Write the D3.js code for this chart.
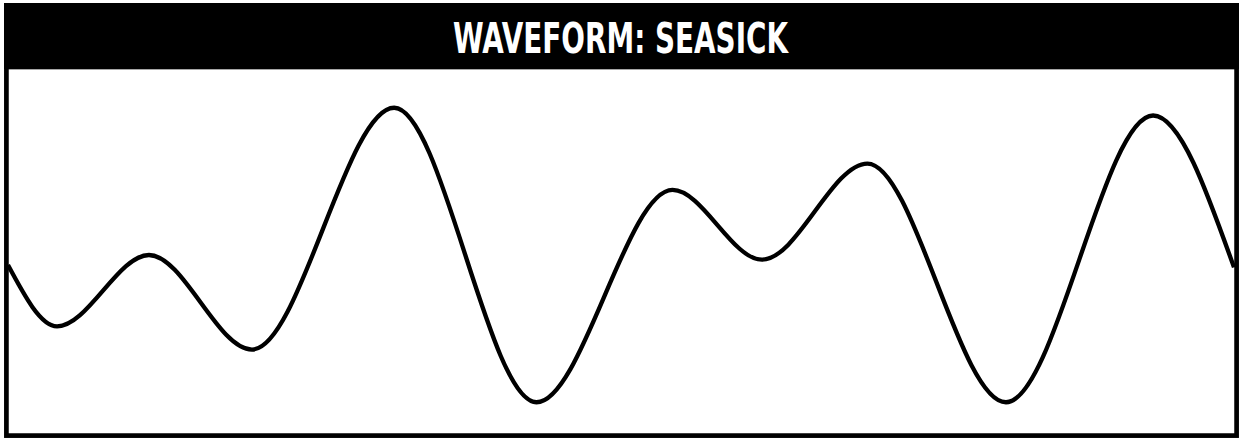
<!DOCTYPE html>
<html>
<head>
<meta charset="utf-8">
<script src="https://cdn.jsdelivr.net/npm/d3@7"></script>
<style>
  html, body { margin: 0; padding: 0; background: #fff; }
  svg { display: block; }
</style>
</head>
<body>
<svg id="chart" width="1239" height="438"></svg>
<script>
// Waveform samples: time (0–100) and amplitude (-1 … 1) at each turning point
const titleText = "WAVEFORM: SEASICK";
const times      = [0, 4.0, 11.5, 19.9, 31.5, 43.1, 54.2, 61.5, 70.1, 81.4, 93.4, 100];
const amplitudes = [-0.065, -0.46, 0.0, -0.61, 0.95, -0.95, 0.42, -0.03, 0.59, -0.95, 0.90, -0.08];

const W = 1239, H = 438;
const svg = d3.select("#chart");

const frame = { left: 6.4, right: 1236.6, top: 67, bottom: 435.6 };

const x = d3.scaleLinear().domain([0, 100]).range([8, 1234]);
const y = d3.scaleLinear().domain([-1, 1]).range([410, 100]);

const points = times.map((t, i) => ({ t, a: amplitudes[i] }));

// plot frame
svg.append("rect")
  .attr("x", frame.left)
  .attr("y", frame.top)
  .attr("width", frame.right - frame.left)
  .attr("height", frame.bottom - frame.top)
  .attr("fill", "#fff")
  .attr("stroke", "#000")
  .attr("stroke-width", 4.7);

// clip the wave to the inside of the frame
svg.append("clipPath").attr("id", "plot-clip")
  .append("rect")
  .attr("x", frame.left)
  .attr("y", frame.top)
  .attr("width", frame.right - frame.left)
  .attr("height", frame.bottom - frame.top);

const line = d3.line()
  .x(d => x(d.t))
  .y(d => y(d.a))
  .curve(d3.curveMonotoneX);

svg.append("path")
  .datum(points)
  .attr("clip-path", "url(#plot-clip)")
  .attr("d", line)
  .attr("fill", "none")
  .attr("stroke", "#000")
  .attr("stroke-width", 4.3)
  .attr("stroke-linejoin", "round");

// title banner
svg.append("rect")
  .attr("x", 4)
  .attr("y", 3)
  .attr("width", W - 4)
  .attr("height", 66)
  .attr("fill", "#000");

svg.append("text")
  .attr("x", W / 2 + 1)
  .attr("y", 52.7)
  .attr("text-anchor", "middle")
  .attr("fill", "#fff")
  .attr("font-family", "'Liberation Sans Narrow', 'DejaVu Sans Condensed', 'Liberation Sans', sans-serif")
  .attr("font-weight", "bold")
  .attr("font-size", 42)
  .attr("textLength", 335)
  .attr("lengthAdjust", "spacingAndGlyphs")
  .text(titleText);
</script>
</body>
</html>
